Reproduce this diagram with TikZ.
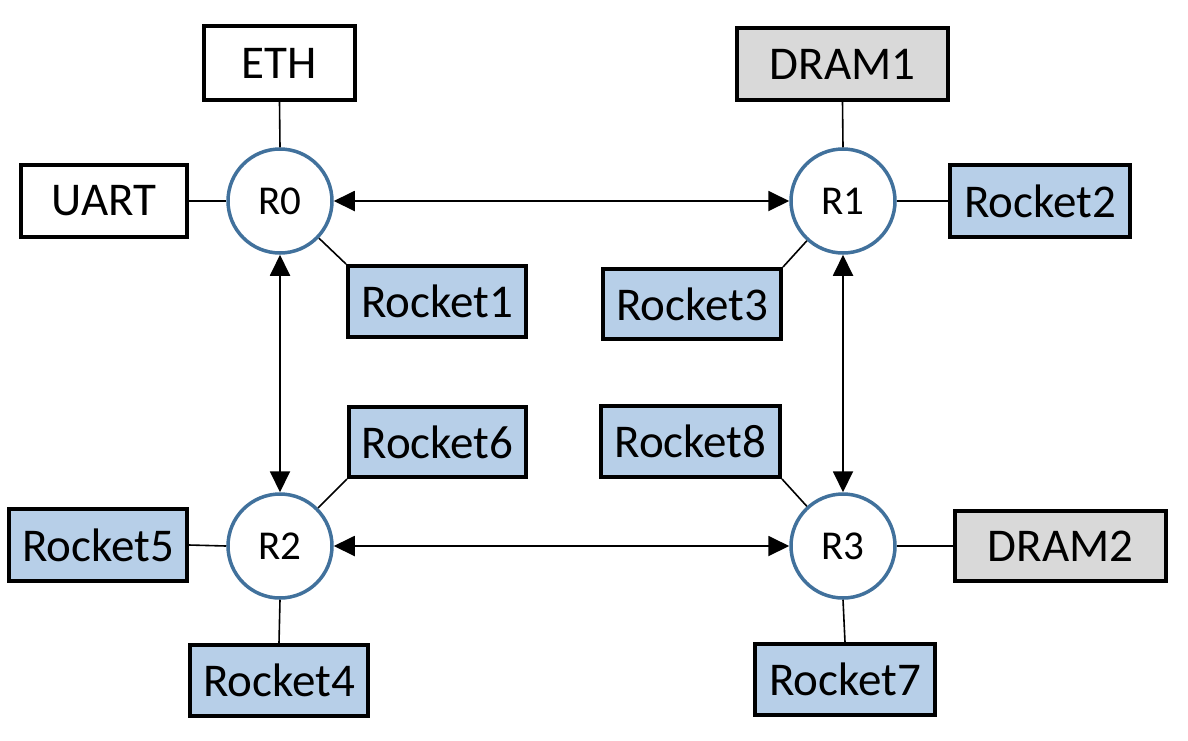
\documentclass[tikz,border=0pt]{standalone}
\usepackage{fontspec}
\setmainfont{Carlito}
\usetikzlibrary{arrows.meta}
\definecolor{ringblue}{HTML}{41719C}
\definecolor{boxblue}{HTML}{B7CFE8}
\definecolor{boxgray}{HTML}{D9D9D9}
\begin{document}
\begin{tikzpicture}[x=1pt,y=-1pt,
  boxbase/.style={draw=black,line width=4pt,inner sep=0pt,minimum height=72pt,
    font=\fontsize{47}{56}\selectfont},
  whitebox/.style={boxbase,fill=white},
  bluebox/.style={boxbase,fill=boxblue},
  graybox/.style={boxbase,fill=boxgray},
  router/.style={circle,draw=ringblue,line width=3.5pt,fill=white,minimum size=104pt,inner sep=0pt,
    font=\fontsize{41}{48}\selectfont},
  link/.style={line width=1.6pt},
  biarrow/.style={line width=1.9pt,{Triangle[length=21pt,width=20pt]}-{Triangle[length=21pt,width=20pt]}}
]
\useasboundingbox (0,0) rectangle (1188,740);

% routers
\node[router] (R0) at (280,201) {R0};
\node[router] (R1) at (843,201) {R1};
\node[router] (R2) at (280,546) {R2};
\node[router] (R3) at (843,546) {R3};

% boxes around R0
\node[whitebox,minimum width=151pt,minimum height=74pt] (eth) at (279.5,63) {ETH};
\node[whitebox,minimum width=166pt] (uart) at (104,201) {UART};
\node[bluebox,minimum width=178pt,minimum height=71pt] (rk1) at (437,301.5) {Rocket1};

% boxes around R1
\node[graybox,minimum width=211pt] (dram1) at (842.5,64) {DRAM1};
\node[bluebox,minimum width=180pt] (rk2) at (1040,201) {Rocket2};
\node[bluebox,minimum width=178pt,minimum height=70pt] (rk3) at (692,304) {Rocket3};

% boxes around R2
\node[bluebox,minimum width=177pt,minimum height=70pt] (rk6) at (437.5,442) {Rocket6};
\node[bluebox,minimum width=178pt] (rk5) at (98,545) {Rocket5};
\node[bluebox,minimum width=178pt,minimum height=71pt] (rk4) at (279,680.5) {Rocket4};

% boxes around R3
\node[bluebox,minimum width=179pt,minimum height=71pt] (rk8) at (690.5,441.5) {Rocket8};
\node[graybox,minimum width=211pt,minimum height=70pt] (dram2) at (1060.5,546) {DRAM2};
\node[bluebox,minimum width=180pt,minimum height=71pt] (rk7) at (845,679.5) {Rocket7};

% links
\draw[link] (eth.south) -- (R0.north);
\draw[link] (uart.east) -- (R0.west);
\draw[link] (R0) -- (rk1.north west);
\draw[link] (dram1.south) -- (R1.north);
\draw[link] (rk2.west) -- (R1.east);
\draw[link] (R1) -- (rk3.north east);
\draw[link] (R2) -- (rk6.south west);
\draw[link] (rk5.east) -- (R2.west);
\draw[link] (rk4.north) -- (R2.south);
\draw[link] (R3) -- (rk8.south east);
\draw[link] (dram2.west) -- (R3.east);
\draw[link] (rk7.north) -- (R3.south);

% router-to-router arrows
\draw[biarrow] (R0) -- (R1);
\draw[biarrow] (R2) -- (R3);
\draw[biarrow] (R0) -- (R2);
\draw[biarrow] (R1) -- (R3);
\end{tikzpicture}
\end{document}
